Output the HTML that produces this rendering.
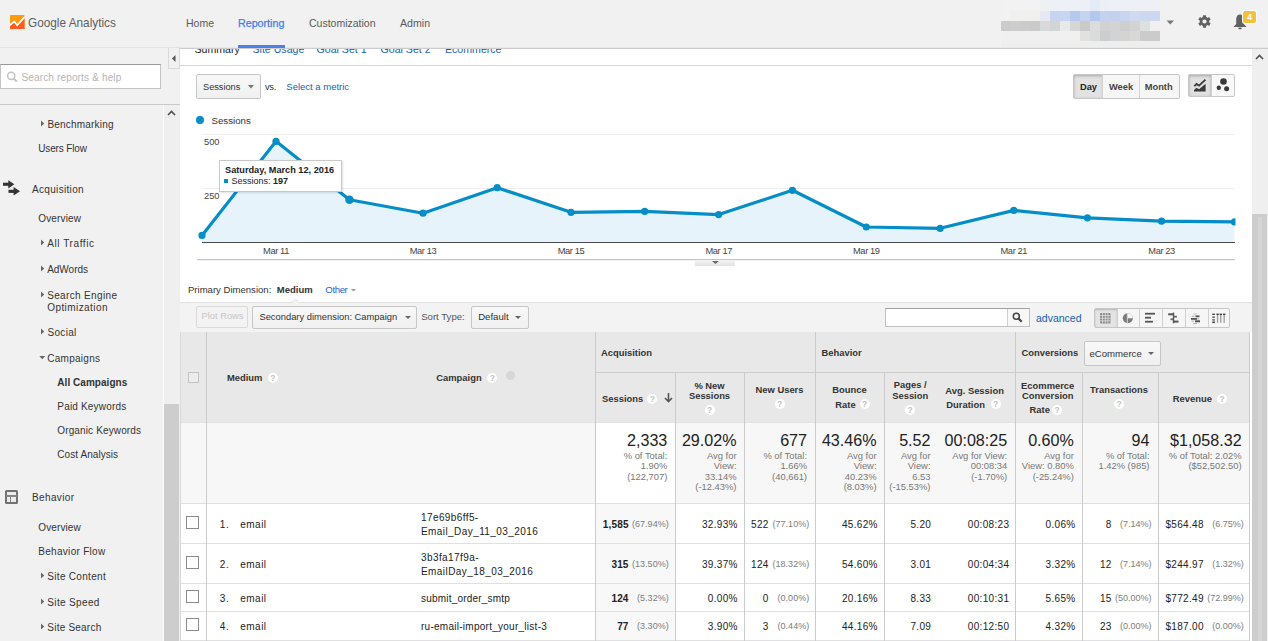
<!DOCTYPE html>
<html><head><meta charset="utf-8"><title>Google Analytics</title>
<style>
*{margin:0;padding:0;box-sizing:border-box}
html,body{width:1268px;height:641px;overflow:hidden;background:#fff}
body{position:relative;font-family:"Liberation Sans",Arial,sans-serif;color:#333}
.t{position:absolute;white-space:nowrap;line-height:14px}
.r{position:absolute}
svg{position:absolute;overflow:visible}
.btn{position:absolute;border:1px solid #c6c6c6;border-radius:2px;background:linear-gradient(#f8f8f8,#f0f0f0)}
.cb{position:absolute;width:13px;height:13px;border:1px solid #8a8a8a;background:#fff}
.q{position:absolute;width:10px;height:10px;border-radius:50%;background:#fff;color:#c2c2c2;font-size:8.5px;line-height:10px;text-align:center;font-weight:bold}
</style></head><body>

<div class="r" style="left:0.0px;top:0.0px;width:1268.0px;height:47.0px;background:#f1f1f1"></div>
<div class="r" style="left:0.0px;top:47.0px;width:180.0px;height:1.0px;background:#e2e2e2"></div>
<div class="r" style="left:180.0px;top:47.0px;width:1088.0px;height:1.0px;background:#e8e8e8"></div>
<div class="r" style="left:180.0px;top:48.0px;width:1088.0px;height:1.0px;background:#cdcdcd"></div>
<svg style="left:9.7px;top:14.9px" width="14.5" height="14" viewBox="0 0 14.5 14">
<rect x="0" y="0" width="14.5" height="14" rx="0.8" fill="#ff9a0a"/>
<polygon points="0,14 0,10.1 4.2,6.5 7.2,10.3 14.5,2.2 14.5,14" fill="#ff5a1f"/>
<polyline points="-0.3,10.4 4.2,6.5 7.2,10.3 14.8,1.9" fill="none" stroke="#fff" stroke-width="1.7"/>
</svg>
<div class="t " style="left:28.0px;top:15.90px;font-size:11.80px;color:#5f5f5f;font-weight:normal;transform:scaleY(1.1);transform-origin:0 50%">Google Analytics</div>
<div class="t " style="left:186.0px;top:16.40px;font-size:10.50px;color:#5a5a5a;font-weight:normal;">Home</div>
<div class="t " style="left:238.0px;top:16.40px;font-size:10.70px;color:#3f7ee8;font-weight:normal;-webkit-text-stroke:0.25px #3f7ee8">Reporting</div>
<div class="t " style="left:309.0px;top:16.40px;font-size:10.50px;color:#5a5a5a;font-weight:normal;">Customization</div>
<div class="t " style="left:400.0px;top:16.40px;font-size:10.60px;color:#5a5a5a;font-weight:normal;">Admin</div>
<div class="r" style="left:238.0px;top:44.5px;width:47.0px;height:3.0px;background:#4a80e8"></div>
<div class="r" style="left:1001.0px;top:0.0px;width:9.0px;height:10.6px;background:#f2f2f2"></div>
<div class="r" style="left:1010.0px;top:0.0px;width:10.0px;height:10.6px;background:#f2f2f2"></div>
<div class="r" style="left:1020.0px;top:0.0px;width:10.0px;height:10.6px;background:#f2f2f2"></div>
<div class="r" style="left:1030.0px;top:0.0px;width:10.0px;height:10.6px;background:#f2f2f2"></div>
<div class="r" style="left:1040.0px;top:0.0px;width:10.0px;height:10.6px;background:#eef0f4"></div>
<div class="r" style="left:1050.0px;top:0.0px;width:10.0px;height:10.6px;background:#edf0f6"></div>
<div class="r" style="left:1060.0px;top:0.0px;width:10.0px;height:10.6px;background:#edf0f6"></div>
<div class="r" style="left:1070.0px;top:0.0px;width:10.0px;height:10.6px;background:#edf0f6"></div>
<div class="r" style="left:1080.0px;top:0.0px;width:10.0px;height:10.6px;background:#eceff5"></div>
<div class="r" style="left:1090.0px;top:0.0px;width:10.0px;height:10.6px;background:#e4eaf6"></div>
<div class="r" style="left:1100.0px;top:0.0px;width:10.0px;height:10.6px;background:#eceff5"></div>
<div class="r" style="left:1110.0px;top:0.0px;width:10.0px;height:10.6px;background:#edf0f6"></div>
<div class="r" style="left:1120.0px;top:0.0px;width:10.0px;height:10.6px;background:#edf0f6"></div>
<div class="r" style="left:1130.0px;top:0.0px;width:10.0px;height:10.6px;background:#eef0f5"></div>
<div class="r" style="left:1140.0px;top:0.0px;width:10.0px;height:10.6px;background:#eef0f5"></div>
<div class="r" style="left:1150.0px;top:0.0px;width:10.0px;height:10.6px;background:#eef0f5"></div>
<div class="r" style="left:1001.0px;top:10.6px;width:9.0px;height:10.0px;background:#f2f2f2"></div>
<div class="r" style="left:1010.0px;top:10.6px;width:10.0px;height:10.0px;background:#f0f0ef"></div>
<div class="r" style="left:1020.0px;top:10.6px;width:10.0px;height:10.0px;background:#f0f0ef"></div>
<div class="r" style="left:1030.0px;top:10.6px;width:10.0px;height:10.0px;background:#f0f0ef"></div>
<div class="r" style="left:1040.0px;top:10.6px;width:10.0px;height:10.0px;background:#e6e9f3"></div>
<div class="r" style="left:1050.0px;top:10.6px;width:10.0px;height:10.0px;background:#c6d4f0"></div>
<div class="r" style="left:1060.0px;top:10.6px;width:10.0px;height:10.0px;background:#c8d5f0"></div>
<div class="r" style="left:1070.0px;top:10.6px;width:10.0px;height:10.0px;background:#b5c8ee"></div>
<div class="r" style="left:1080.0px;top:10.6px;width:10.0px;height:10.0px;background:#c5d3f0"></div>
<div class="r" style="left:1090.0px;top:10.6px;width:10.0px;height:10.0px;background:#b4c7ee"></div>
<div class="r" style="left:1100.0px;top:10.6px;width:10.0px;height:10.0px;background:#c4d2f0"></div>
<div class="r" style="left:1110.0px;top:10.6px;width:10.0px;height:10.0px;background:#c3d0ee"></div>
<div class="r" style="left:1120.0px;top:10.6px;width:10.0px;height:10.0px;background:#c8d5f0"></div>
<div class="r" style="left:1130.0px;top:10.6px;width:10.0px;height:10.0px;background:#d0d9ee"></div>
<div class="r" style="left:1140.0px;top:10.6px;width:10.0px;height:10.0px;background:#ccd7f0"></div>
<div class="r" style="left:1150.0px;top:10.6px;width:10.0px;height:10.0px;background:#ccd7f0"></div>
<div class="r" style="left:1001.0px;top:20.6px;width:9.0px;height:10.0px;background:#cbcbcb"></div>
<div class="r" style="left:1010.0px;top:20.6px;width:10.0px;height:10.0px;background:#cdcdcd"></div>
<div class="r" style="left:1020.0px;top:20.6px;width:10.0px;height:10.0px;background:#cbcbcb"></div>
<div class="r" style="left:1030.0px;top:20.6px;width:10.0px;height:10.0px;background:#cacaca"></div>
<div class="r" style="left:1040.0px;top:20.6px;width:10.0px;height:10.0px;background:#d8d9da"></div>
<div class="r" style="left:1050.0px;top:20.6px;width:10.0px;height:10.0px;background:#d3d4d4"></div>
<div class="r" style="left:1060.0px;top:20.6px;width:10.0px;height:10.0px;background:#e8e9e8"></div>
<div class="r" style="left:1070.0px;top:20.6px;width:10.0px;height:10.0px;background:#d6d6d5"></div>
<div class="r" style="left:1080.0px;top:20.6px;width:10.0px;height:10.0px;background:#cacaca"></div>
<div class="r" style="left:1090.0px;top:20.6px;width:10.0px;height:10.0px;background:#dcdcdc"></div>
<div class="r" style="left:1100.0px;top:20.6px;width:10.0px;height:10.0px;background:#d1d1d1"></div>
<div class="r" style="left:1110.0px;top:20.6px;width:10.0px;height:10.0px;background:#d3d3d3"></div>
<div class="r" style="left:1120.0px;top:20.6px;width:10.0px;height:10.0px;background:#cecece"></div>
<div class="r" style="left:1130.0px;top:20.6px;width:10.0px;height:10.0px;background:#d3d3d3"></div>
<div class="r" style="left:1140.0px;top:20.6px;width:10.0px;height:10.0px;background:#dedfdf"></div>
<div class="r" style="left:1150.0px;top:20.6px;width:10.0px;height:10.0px;background:#f0f0f0"></div>
<div class="r" style="left:1001.0px;top:30.6px;width:9.0px;height:10.0px;background:#f0f0f0"></div>
<div class="r" style="left:1010.0px;top:30.6px;width:10.0px;height:10.0px;background:#f0f0f0"></div>
<div class="r" style="left:1020.0px;top:30.6px;width:10.0px;height:10.0px;background:#f0f0f0"></div>
<div class="r" style="left:1030.0px;top:30.6px;width:10.0px;height:10.0px;background:#f0f0f0"></div>
<div class="r" style="left:1040.0px;top:30.6px;width:10.0px;height:10.0px;background:#f0f0f0"></div>
<div class="r" style="left:1050.0px;top:30.6px;width:10.0px;height:10.0px;background:#f0f0f0"></div>
<div class="r" style="left:1060.0px;top:30.6px;width:10.0px;height:10.0px;background:#f0f0f0"></div>
<div class="r" style="left:1070.0px;top:30.6px;width:10.0px;height:10.0px;background:#f0f0f0"></div>
<div class="r" style="left:1080.0px;top:30.6px;width:10.0px;height:10.0px;background:#e1e1e0"></div>
<div class="r" style="left:1090.0px;top:30.6px;width:10.0px;height:10.0px;background:#dadbdb"></div>
<div class="r" style="left:1100.0px;top:30.6px;width:10.0px;height:10.0px;background:#cdcdcd"></div>
<div class="r" style="left:1110.0px;top:30.6px;width:10.0px;height:10.0px;background:#d2d3d4"></div>
<div class="r" style="left:1120.0px;top:30.6px;width:10.0px;height:10.0px;background:#d4d4d2"></div>
<div class="r" style="left:1130.0px;top:30.6px;width:10.0px;height:10.0px;background:#d8d8d8"></div>
<div class="r" style="left:1140.0px;top:30.6px;width:10.0px;height:10.0px;background:#cbcbcb"></div>
<div class="r" style="left:1150.0px;top:30.6px;width:10.0px;height:10.0px;background:#cbcbcb"></div>
<div class="r" style="left:1001.0px;top:40.8px;width:159.0px;height:6.2px;background:#eeeeee"></div>
<svg style="left:1166px;top:20px" width="9" height="5"><polygon points="0.5,0.5 8,0.5 4.25,4.5" fill="#777"/></svg>
<svg style="left:1196.9px;top:13.9px" width="15" height="15" viewBox="-7.5 -7.5 15 15">
<g fill="#616161">
<circle r="4.7"/>
<rect x="-1.6" y="-6.3" width="3.2" height="12.6" rx="0.6"/>
<rect x="-1.6" y="-6.3" width="3.2" height="12.6" rx="0.6" transform="rotate(60)"/>
<rect x="-1.6" y="-6.3" width="3.2" height="12.6" rx="0.6" transform="rotate(120)"/>
</g><circle r="2.1" fill="#f1f1f1"/></svg>
<svg style="left:1233px;top:13px" width="16" height="17" viewBox="0 0 16 17">
<path d="M7,1.5 C4,1.5 3.2,4.5 3.2,7 L3.2,11 L0.5,14 L13.5,14 L10.8,11 L10.8,7 C10.8,4.5 10,1.5 7,1.5 Z" fill="#616161"/>
<rect x="5.3" y="14.6" width="3.4" height="1.6" rx="0.8" fill="#616161"/></svg>
<div class="r" style="left:1243.0px;top:10.5px;width:13.0px;height:12.5px;background:#f3c13a;border-radius:2px;box-shadow:0 0 0 1px #fff"></div>
<div class="t " style="left:1249.5px;transform:translateX(-50%);top:10.35px;font-size:9.00px;color:#fff;font-weight:bold;">4</div>
<div class="r" style="left:0.0px;top:48.0px;width:180.0px;height:593.0px;background:#f1f1f1"></div>
<div class="r" style="left:0.0px;top:64.0px;width:161.0px;height:25.0px;background:#fff;border:1px solid #c4c4c4;border-top-color:#9a9a9a"></div>
<svg style="left:6px;top:70px" width="12" height="13" viewBox="0 0 12 13">
<circle cx="5.2" cy="5.8" r="3.6" fill="none" stroke="#c2c2c2" stroke-width="1.5"/>
<line x1="7.8" y1="8.6" x2="10.8" y2="11.6" stroke="#c2c2c2" stroke-width="2"/></svg>
<div class="t " style="left:21.4px;top:71.40px;font-size:10.00px;color:#b4b4b4;font-weight:normal;letter-spacing:0.159px;">Search reports &amp; help</div>
<div class="r" style="left:168.0px;top:48.0px;width:12.0px;height:21.0px;background:#f1f1f1;border:1px solid #dadada;border-top:none"></div>
<svg style="left:172px;top:55px" width="4" height="7"><polygon points="3.5,0 3.5,7 0,3.5" fill="#555"/></svg>
<div class="r" style="left:0.0px;top:103.5px;width:180.0px;height:1.5px;background:#c9c9c9"></div>
<div class="r" style="left:163.0px;top:105.0px;width:1.0px;height:536.0px;background:#fcfcfc"></div>
<div class="r" style="left:164.0px;top:105.0px;width:16.0px;height:536.0px;background:#efefef"></div>
<div class="r" style="left:164.0px;top:404.0px;width:15.0px;height:237.0px;background:#cdcdcd"></div>
<svg style="left:167px;top:110px" width="9" height="6"><polyline points="1,5 4.5,1.5 8,5" fill="none" stroke="#505050" stroke-width="1.6"/></svg>
<svg style="left:40.6px;top:120.0px" width="4" height="7"><polygon points="0,0.5 3.2,3.5 0,6.5" fill="#666"/></svg>
<div class="t " style="left:47.4px;top:117.90px;font-size:10.00px;color:#333;font-weight:normal;letter-spacing:0.207px;">Benchmarking</div>
<div class="t " style="left:38.3px;top:141.80px;font-size:10.00px;color:#333;font-weight:normal;letter-spacing:-0.159px;">Users Flow</div>
<svg style="left:0;top:178px" width="22" height="20" viewBox="0 178 22 20">
<g fill="#333"><rect x="3" y="182.7" width="6.5" height="3.1"/><polygon points="8.3,180.2 14.3,184.25 8.3,188.4"/>
<rect x="8.5" y="189.8" width="6" height="3.1"/><polygon points="13.6,187.1 20,191.35 13.6,195.6"/></g></svg>
<div class="t " style="left:32.0px;top:182.80px;font-size:10.00px;color:#333;font-weight:normal;letter-spacing:0.324px;">Acquisition</div>
<div class="t " style="left:38.2px;top:212.10px;font-size:10.00px;color:#333;font-weight:normal;letter-spacing:0.171px;">Overview</div>
<svg style="left:40.6px;top:239.0px" width="4" height="7"><polygon points="0,0.5 3.2,3.5 0,6.5" fill="#666"/></svg>
<div class="t " style="left:47.2px;top:237.10px;font-size:10.00px;color:#333;font-weight:normal;letter-spacing:0.586px;">All Traffic</div>
<svg style="left:40.6px;top:265.0px" width="4" height="7"><polygon points="0,0.5 3.2,3.5 0,6.5" fill="#666"/></svg>
<div class="t " style="left:47.2px;top:263.10px;font-size:10.00px;color:#333;font-weight:normal;letter-spacing:-0.023px;">AdWords</div>
<svg style="left:40.6px;top:291.0px" width="4" height="7"><polygon points="0,0.5 3.2,3.5 0,6.5" fill="#666"/></svg>
<div class="t " style="left:47.2px;top:289.00px;font-size:10.00px;color:#333;font-weight:normal;letter-spacing:0.350px;">Search Engine</div>
<div class="t " style="left:47.2px;top:301.20px;font-size:10.00px;color:#333;font-weight:normal;letter-spacing:0.429px;">Optimization</div>
<svg style="left:40.6px;top:328.0px" width="4" height="7"><polygon points="0,0.5 3.2,3.5 0,6.5" fill="#666"/></svg>
<div class="t " style="left:47.5px;top:325.80px;font-size:10.00px;color:#333;font-weight:normal;letter-spacing:0.312px;">Social</div>
<svg style="left:39.0px;top:355.6px" width="7" height="4"><polygon points="0.3,0 6.2,0 3.25,3.2" fill="#666"/></svg>
<div class="t " style="left:47.3px;top:352.10px;font-size:10.00px;color:#333;font-weight:normal;letter-spacing:0.265px;">Campaigns</div>
<div class="t " style="left:57.3px;top:376.04px;font-size:10.00px;color:#333;font-weight:bold;letter-spacing:0.045px;">All Campaigns</div>
<div class="t " style="left:57.3px;top:400.10px;font-size:10.00px;color:#333;font-weight:normal;letter-spacing:0.183px;">Paid Keywords</div>
<div class="t " style="left:57.3px;top:424.10px;font-size:10.00px;color:#333;font-weight:normal;letter-spacing:0.133px;">Organic Keywords</div>
<div class="t " style="left:57.3px;top:448.00px;font-size:10.00px;color:#333;font-weight:normal;letter-spacing:0.065px;">Cost Analysis</div>
<div class="r" style="left:4.5px;top:490.0px;width:13.4px;height:13.5px;border:2px solid #727272;border-radius:1.5px;background:#ececec"></div>
<div class="r" style="left:6.0px;top:495.4px;width:10.5px;height:1.6px;background:#858585"></div>
<div class="r" style="left:9.6px;top:496.8px;width:1.5px;height:5.2px;background:#858585"></div>
<div class="t " style="left:32.0px;top:490.90px;font-size:10.00px;color:#333;font-weight:normal;letter-spacing:0.361px;">Behavior</div>
<div class="t " style="left:38.3px;top:520.90px;font-size:10.00px;color:#333;font-weight:normal;letter-spacing:0.114px;">Overview</div>
<div class="t " style="left:38.3px;top:545.00px;font-size:10.00px;color:#333;font-weight:normal;letter-spacing:0.293px;">Behavior Flow</div>
<svg style="left:40.6px;top:572.0px" width="4" height="7"><polygon points="0,0.5 3.2,3.5 0,6.5" fill="#666"/></svg>
<div class="t " style="left:47.3px;top:570.10px;font-size:10.00px;color:#333;font-weight:normal;letter-spacing:0.306px;">Site Content</div>
<svg style="left:40.6px;top:598.0px" width="4" height="7"><polygon points="0,0.5 3.2,3.5 0,6.5" fill="#666"/></svg>
<div class="t " style="left:47.3px;top:596.10px;font-size:10.00px;color:#333;font-weight:normal;letter-spacing:0.352px;">Site Speed</div>
<svg style="left:40.6px;top:623.0px" width="4" height="7"><polygon points="0,0.5 3.2,3.5 0,6.5" fill="#666"/></svg>
<div class="t " style="left:47.3px;top:621.10px;font-size:10.00px;color:#333;font-weight:normal;letter-spacing:0.221px;">Site Search</div>
<div class="r" style="left:1252.0px;top:49.0px;width:16.0px;height:592.0px;background:#efefef"></div>
<div class="r" style="left:1252.0px;top:214.0px;width:15.0px;height:427.0px;background:#cdcdcd"></div>
<div class="r" style="left:1258.0px;top:217.0px;width:4.0px;height:424.0px;background:#d5d5d5"></div>
<svg style="left:1255px;top:54px" width="9" height="6"><polyline points="1,5 4.5,1.5 8,5" fill="none" stroke="#505050" stroke-width="1.6"/></svg>
<div style="position:absolute;left:180px;top:49px;width:1072px;height:16px;overflow:hidden">
<div class="t" style="left:14.5px;top:-7px;font-size:10.6px;color:#222">Summary</div>
<div class="t" style="left:72.5px;top:-7px;font-size:10.6px;color:#175fb3">Site Usage</div>
<div class="t" style="left:136.5px;top:-7px;font-size:10.6px;color:#175fb3">Goal Set 1</div>
<div class="t" style="left:200.5px;top:-7px;font-size:10.6px;color:#175fb3">Goal Set 2</div>
<div class="t" style="left:265.0px;top:-7px;font-size:10.6px;color:#175fb3">Ecommerce</div>
</div>
<div class="r" style="left:180.0px;top:65.0px;width:1072.0px;height:1.0px;background:#d6d6d6"></div>
<div class="btn" style="left:196px;top:74px;width:65px;height:25px"></div>
<div class="t " style="left:203.0px;top:80.08px;font-size:9.20px;color:#333;font-weight:normal;">Sessions</div>
<svg style="left:248px;top:85px" width="7" height="4"><polygon points="0,0 6,0 3,3.5" fill="#777"/></svg>
<div class="t " style="left:265.0px;top:79.88px;font-size:9.30px;color:#333;font-weight:normal;letter-spacing:-0.3px">vs.</div>
<div class="t " style="left:286.3px;top:80.08px;font-size:9.50px;color:#175fb3;font-weight:normal;">Select a metric</div>
<div class="btn" style="left:1073px;top:74px;width:107px;height:25px;background:#f6f6f6"></div>
<div class="r" style="left:1074.0px;top:75.0px;width:28.5px;height:23.0px;background:#e2e2e2;box-shadow:inset 0 1px 3px rgba(0,0,0,.25)"></div>
<div class="r" style="left:1102.0px;top:75.0px;width:1.0px;height:23.0px;background:#d4d4d4"></div>
<div class="r" style="left:1139.0px;top:75.0px;width:1.0px;height:23.0px;background:#d4d4d4"></div>
<div class="t " style="left:1088.5px;transform:translateX(-50%);top:79.85px;font-size:9.30px;color:#222;font-weight:bold;">Day</div>
<div class="t " style="left:1121.0px;transform:translateX(-50%);top:79.85px;font-size:9.30px;color:#444;font-weight:bold;">Week</div>
<div class="t " style="left:1158.7px;transform:translateX(-50%);top:79.85px;font-size:9.30px;color:#444;font-weight:bold;">Month</div>
<div class="btn" style="left:1188px;top:74px;width:47px;height:23px;background:#f9f9f9"></div>
<div class="r" style="left:1189.0px;top:75.0px;width:21.5px;height:21.0px;background:#e0e0e0;box-shadow:inset 0 1px 3px rgba(0,0,0,.25)"></div>
<div class="r" style="left:1210.5px;top:75.0px;width:1.0px;height:21.0px;background:#cfcfcf"></div>
<svg style="left:1194px;top:79px" width="13" height="13" viewBox="0 0 13 13">
<polyline points="0.3,7.2 2.6,5 5,6.6 11.5,0.6" fill="none" stroke="#3a3a3a" stroke-width="1.8"/>
<polygon points="0,12.5 0,11 2.6,8.8 5,10.3 11.6,4.8 11.6,12.5" fill="#3a3a3a"/></svg>
<svg style="left:1215px;top:77px" width="16" height="16">
<circle cx="8.5" cy="4.5" r="3.3" fill="#3a3a3a"/><circle cx="3.8" cy="10.7" r="2.2" fill="#3a3a3a"/><circle cx="11.6" cy="11.8" r="2.5" fill="#3a3a3a"/></svg>
<svg style="left:195px;top:115px" width="10" height="10"><circle cx="5" cy="5" r="4" fill="#058dc7"/></svg>
<div class="t " style="left:211.5px;top:114.07px;font-size:9.70px;color:#333;font-weight:normal;">Sessions</div>
<svg style="left:0;top:0" width="1268" height="641"><defs><clipPath id="cp"><rect x="190" y="100" width="1045.5" height="170"/></clipPath></defs><g clip-path="url(#cp)"><line x1="202" y1="134.5" x2="1235" y2="134.5" stroke="#eeeeee" stroke-width="1"/><line x1="202" y1="188.5" x2="1235" y2="188.5" stroke="#eeeeee" stroke-width="1"/><polygon points="202,242 202.0,235.4 276.0,141.3 349.5,199.7 423.0,213.2 497.2,187.7 571.0,212.3 644.7,211.3 718.7,214.6 792.4,190.3 866.3,227.0 940.2,228.3 1013.8,210.4 1087.4,217.8 1161.6,221.2 1234.5,221.9 1234.5,242" fill="#e6f3fa"/><polyline points="202.0,235.4 276.0,141.3 349.5,199.7 423.0,213.2 497.2,187.7 571.0,212.3 644.7,211.3 718.7,214.6 792.4,190.3 866.3,227.0 940.2,228.3 1013.8,210.4 1087.4,217.8 1161.6,221.2 1234.5,221.9" fill="none" stroke="#058dc7" stroke-width="3.2" stroke-linejoin="round"/><circle cx="202.0" cy="235.4" r="3.6" fill="#058dc7"/><circle cx="276.0" cy="141.3" r="3.6" fill="#058dc7"/><circle cx="349.5" cy="199.7" r="4.3" fill="#058dc7"/><circle cx="423.0" cy="213.2" r="3.6" fill="#058dc7"/><circle cx="497.2" cy="187.7" r="3.6" fill="#058dc7"/><circle cx="571.0" cy="212.3" r="3.6" fill="#058dc7"/><circle cx="644.7" cy="211.3" r="3.6" fill="#058dc7"/><circle cx="718.7" cy="214.6" r="3.6" fill="#058dc7"/><circle cx="792.4" cy="190.3" r="3.6" fill="#058dc7"/><circle cx="866.3" cy="227.0" r="3.6" fill="#058dc7"/><circle cx="940.2" cy="228.3" r="3.6" fill="#058dc7"/><circle cx="1013.8" cy="210.4" r="3.6" fill="#058dc7"/><circle cx="1087.4" cy="217.8" r="3.6" fill="#058dc7"/><circle cx="1161.6" cy="221.2" r="3.6" fill="#058dc7"/><circle cx="1234.5" cy="221.9" r="3.6" fill="#058dc7"/><line x1="202" y1="242.5" x2="1235" y2="242.5" stroke="#4a4a4a" stroke-width="1.1"/><line x1="197" y1="259.6" x2="1235" y2="259.6" stroke="#c4c4c4" stroke-width="1.2"/></g></svg>
<div class="t " style="left:204.0px;top:135.08px;font-size:9.30px;color:#444;font-weight:normal;">500</div>
<div class="t " style="left:204.0px;top:188.88px;font-size:9.30px;color:#444;font-weight:normal;">250</div>
<div class="t " style="left:276.0px;transform:translateX(-50%);top:244.08px;font-size:9.30px;color:#444;font-weight:normal;letter-spacing:-0.4px">Mar 11</div>
<div class="t " style="left:423.0px;transform:translateX(-50%);top:244.08px;font-size:9.30px;color:#444;font-weight:normal;letter-spacing:-0.4px">Mar 13</div>
<div class="t " style="left:571.0px;transform:translateX(-50%);top:244.08px;font-size:9.30px;color:#444;font-weight:normal;letter-spacing:-0.4px">Mar 15</div>
<div class="t " style="left:718.7px;transform:translateX(-50%);top:244.08px;font-size:9.30px;color:#444;font-weight:normal;letter-spacing:-0.4px">Mar 17</div>
<div class="t " style="left:866.3px;transform:translateX(-50%);top:244.08px;font-size:9.30px;color:#444;font-weight:normal;letter-spacing:-0.4px">Mar 19</div>
<div class="t " style="left:1013.8px;transform:translateX(-50%);top:244.08px;font-size:9.30px;color:#444;font-weight:normal;letter-spacing:-0.4px">Mar 21</div>
<div class="t " style="left:1161.6px;transform:translateX(-50%);top:244.08px;font-size:9.30px;color:#444;font-weight:normal;letter-spacing:-0.4px">Mar 23</div>
<div class="r" style="left:695.0px;top:260.0px;width:39.5px;height:6.0px;background:linear-gradient(#f4f4f4,#e3e3e3)"></div>
<svg style="left:712px;top:261px" width="7" height="4"><polygon points="0,0 7,0 3.5,3" fill="#6a6a6a"/></svg>
<div class="r" style="left:218.5px;top:160.0px;width:123.0px;height:31.5px;background:#fff;border:1px solid #c9c9c9;box-shadow:1px 1px 2px rgba(0,0,0,.12)"></div>
<div class="t " style="left:225.0px;top:163.15px;font-size:9.20px;color:#222;font-weight:bold;">Saturday, March 12, 2016</div>
<div class="r" style="left:224.0px;top:178.8px;width:4.0px;height:4.0px;background:#058dc7"></div>
<div class="t " style="left:231.4px;top:173.97px;font-size:9.00px;color:#222;font-weight:normal;">Sessions: <b>197</b></div>
<div class="t " style="left:188.0px;top:282.57px;font-size:9.55px;color:#333;font-weight:normal;">Primary Dimension:</div>
<div class="t " style="left:276.8px;top:282.55px;font-size:9.50px;color:#333;font-weight:bold;">Medium</div>
<div class="t " style="left:325.3px;top:282.57px;font-size:9.60px;color:#2a5fd0;font-weight:normal;letter-spacing:-0.377px;">Other</div>
<svg style="left:351.4px;top:288.5px" width="5" height="3"><polygon points="0,0 5,0 2.5,2.5" fill="#999"/></svg>
<div class="r" style="left:180.0px;top:302.0px;width:1072.0px;height:30.0px;background:#f3f3f3;border-top:1px solid #e3e3e3"></div>
<svg style="left:290.5px;top:297.5px" width="10" height="6"><polyline points="0.5,5 4.5,1 8.5,5" fill="#f3f3f3" stroke="#e0e0e0" stroke-width="1"/></svg>
<div class="btn" style="left:196px;top:306px;width:51.5px;height:22px;background:#f3f3f3;border-color:#dadada"></div>
<div class="t " style="left:201.6px;top:309.38px;font-size:9.30px;color:#c6c6c6;font-weight:normal;">Plot Rows</div>
<div class="btn" style="left:252px;top:306px;width:165px;height:23px"></div>
<div class="t " style="left:259.4px;top:309.57px;font-size:9.37px;color:#333;font-weight:normal;">Secondary dimension: Campaign</div>
<svg style="left:405px;top:316px" width="6" height="4"><polygon points="0,0 6,0 3,3" fill="#666"/></svg>
<div class="t " style="left:421.2px;top:309.57px;font-size:9.60px;color:#555;font-weight:normal;">Sort Type:</div>
<div class="btn" style="left:471px;top:306px;width:57.5px;height:23px"></div>
<div class="t " style="left:478.2px;top:309.57px;font-size:9.60px;color:#333;font-weight:normal;">Default</div>
<svg style="left:515px;top:316px" width="6" height="4"><polygon points="0,0 6,0 3,3" fill="#666"/></svg>
<div class="r" style="left:885.0px;top:308.0px;width:145.0px;height:19.0px;background:#fff;border:1px solid #c0c0c0;border-top-color:#a0a0a0"></div>
<div class="r" style="left:1007.0px;top:309.0px;width:22.0px;height:17.0px;background:#f7f7f7;border-left:1px solid #d0d0d0"></div>
<svg style="left:1012px;top:312px" width="11" height="11"><circle cx="4.3" cy="4.3" r="3" fill="none" stroke="#444" stroke-width="1.5"/><line x1="6.5" y1="6.5" x2="9.7" y2="9.7" stroke="#444" stroke-width="2.2"/></svg>
<div class="t " style="left:1036.0px;top:310.90px;font-size:10.50px;color:#175fb3;font-weight:normal;">advanced</div>
<div class="btn" style="left:1094px;top:308px;width:136px;height:20px;background:#f6f6f6"></div>
<div class="r" style="left:1095.0px;top:309.0px;width:21.5px;height:18.0px;background:#e4e4e4;box-shadow:inset 0 1px 2px rgba(0,0,0,.2)"></div>
<div class="r" style="left:1116.7px;top:309.0px;width:1.0px;height:18.0px;background:#cfcfcf"></div>
<div class="r" style="left:1139.4px;top:309.0px;width:1.0px;height:18.0px;background:#cfcfcf"></div>
<div class="r" style="left:1161.5px;top:309.0px;width:1.0px;height:18.0px;background:#cfcfcf"></div>
<div class="r" style="left:1184.5px;top:309.0px;width:1.0px;height:18.0px;background:#cfcfcf"></div>
<div class="r" style="left:1207.5px;top:309.0px;width:1.0px;height:18.0px;background:#cfcfcf"></div>
<svg style="left:0;top:0" width="1268" height="641"><rect x="1100" y="313" width="10.5" height="10.5" rx="1" fill="#8a8a8a"/><line x1="1102.6" y1="313" x2="1102.6" y2="323.5" stroke="#e4e4e4" stroke-width="0.8"/><line x1="1100" y1="315.6" x2="1110.5" y2="315.6" stroke="#e4e4e4" stroke-width="0.8"/><line x1="1105.3" y1="313" x2="1105.3" y2="323.5" stroke="#e4e4e4" stroke-width="0.8"/><line x1="1100" y1="318.3" x2="1110.5" y2="318.3" stroke="#e4e4e4" stroke-width="0.8"/><line x1="1107.9" y1="313" x2="1107.9" y2="323.5" stroke="#e4e4e4" stroke-width="0.8"/><line x1="1100" y1="320.9" x2="1110.5" y2="320.9" stroke="#e4e4e4" stroke-width="0.8"/><circle cx="1127.8" cy="318.2" r="5" fill="#7a7a7a"/><path d="M1127.8,313.2 V318.2 H1132.8 A5,5 0 0 0 1127.8,313.2Z" fill="#f6f6f6"/><line x1="1127.3" y1="313.2" x2="1127.3" y2="323.2" stroke="#f6f6f6" stroke-width="0.8"/><rect x="1145" y="312.8" width="10" height="1.8" fill="#555"/><rect x="1145" y="316.8" width="6" height="1.8" fill="#555"/><rect x="1145" y="320.8" width="8" height="1.8" fill="#555"/><rect x="1172.8" y="312.5" width="1.4" height="10.8" fill="#555"/><rect x="1168.2" y="313.3" width="5" height="2" fill="#555"/><rect x="1173.5" y="315.8" width="3.4" height="1.8" fill="#666"/><rect x="1170.5" y="318.4" width="2.6" height="1.8" fill="#666"/><rect x="1173.5" y="320.6" width="5" height="2" fill="#555"/><rect x="1193.5" y="313.6" width="3" height="0.8" fill="#aaa"/><rect x="1192" y="315.8" width="2.4" height="1" fill="#aaa"/><rect x="1195.5" y="315.4" width="4" height="1.8" fill="#555"/><rect x="1191" y="318" width="6" height="1.8" fill="#555"/><rect x="1197.5" y="318.4" width="1.6" height="1" fill="#999"/><rect x="1191.5" y="320.6" width="2.5" height="1" fill="#aaa"/><rect x="1195" y="320.3" width="5" height="2" fill="#555"/><rect x="1193" y="323" width="4" height="0.8" fill="#aaa"/><rect x="1212.3" y="313.6" width="2.6" height="1.4" fill="#444"/><rect x="1212.3" y="316.5" width="2.6" height="1.4" fill="#555"/><rect x="1212.3" y="319.2" width="2.6" height="1.4" fill="#555"/><rect x="1212.3" y="321.5" width="2.6" height="1.6" fill="#444"/><rect x="1216.4" y="313.6" width="2.4" height="1.4" fill="#444"/><rect x="1216.9" y="315" width="1.3" height="7.8" fill="#999"/><rect x="1219.6" y="313.6" width="2.4" height="1.4" fill="#444"/><rect x="1220.1" y="315" width="1.3" height="7.8" fill="#999"/><rect x="1223.0" y="313.6" width="2.4" height="1.4" fill="#444"/><rect x="1223.5" y="315" width="1.3" height="7.8" fill="#999"/></svg>
<div class="r" style="left:180.0px;top:332.0px;width:1070.0px;height:90.0px;background:#e8e8e8"></div>
<div class="r" style="left:180.0px;top:422.0px;width:1070.0px;height:81.0px;background:#f7f7f7"></div>
<div class="r" style="left:595.0px;top:422.0px;width:80.0px;height:81.0px;background:#fff"></div>
<div class="r" style="left:595.0px;top:503.0px;width:80.0px;height:138.0px;background:#f8f8f8"></div>
<div class="r" style="left:595.0px;top:372.0px;width:655.0px;height:1.0px;background:#cbcbcb"></div>
<div class="r" style="left:180.0px;top:422.0px;width:1070.0px;height:1.0px;background:#e2e2e2"></div>
<div class="r" style="left:180.0px;top:503.0px;width:1070.0px;height:1.0px;background:#e0e0e0"></div>
<div class="r" style="left:180.0px;top:543.0px;width:1070.0px;height:1.0px;background:#e0e0e0"></div>
<div class="r" style="left:180.0px;top:583.0px;width:1070.0px;height:1.0px;background:#e0e0e0"></div>
<div class="r" style="left:180.0px;top:611.0px;width:1070.0px;height:1.0px;background:#e0e0e0"></div>
<div class="r" style="left:180.0px;top:640.0px;width:1070.0px;height:1.0px;background:#e0e0e0"></div>
<div class="r" style="left:180.0px;top:332.0px;width:1.0px;height:309.0px;background:#d9d9d9"></div>
<div class="r" style="left:206.0px;top:332.0px;width:1.0px;height:309.0px;background:#cbcbcb"></div>
<div class="r" style="left:595.0px;top:332.0px;width:1.0px;height:309.0px;background:#cbcbcb"></div>
<div class="r" style="left:675.0px;top:372.0px;width:1.0px;height:269.0px;background:#cbcbcb"></div>
<div class="r" style="left:744.0px;top:372.0px;width:1.0px;height:269.0px;background:#cbcbcb"></div>
<div class="r" style="left:884.0px;top:372.0px;width:1.0px;height:269.0px;background:#cbcbcb"></div>
<div class="r" style="left:1082.0px;top:372.0px;width:1.0px;height:269.0px;background:#cbcbcb"></div>
<div class="r" style="left:1158.0px;top:372.0px;width:1.0px;height:269.0px;background:#cbcbcb"></div>
<div class="r" style="left:815.0px;top:332.0px;width:1.0px;height:309.0px;background:#cbcbcb"></div>
<div class="r" style="left:1015.0px;top:332.0px;width:1.0px;height:309.0px;background:#cbcbcb"></div>
<div class="r" style="left:1249.0px;top:332.0px;width:1.0px;height:309.0px;background:#cbcbcb"></div>
<div class="r" style="left:188.0px;top:372.0px;width:11.0px;height:11.0px;border:1px solid #c2c2c2;background:#ececec"></div>
<div class="t " style="left:227.0px;top:371.35px;font-size:9.40px;color:#333;font-weight:bold;">Medium</div>
<div class="q" style="left:267.8px;top:373.0px">?</div>
<div class="t " style="left:436.3px;top:371.35px;font-size:9.40px;color:#333;font-weight:bold;">Campaign</div>
<div class="q" style="left:487.3px;top:373.0px">?</div>
<div style="position:absolute;left:506.3px;top:370.8px;width:9px;height:9px;border-radius:50%;background:#d6d6d6"></div>
<div class="t " style="left:601.0px;top:346.05px;font-size:9.40px;color:#333;font-weight:bold;">Acquisition</div>
<div class="t " style="left:821.5px;top:346.05px;font-size:9.40px;color:#333;font-weight:bold;">Behavior</div>
<div class="t " style="left:1021.5px;top:346.35px;font-size:9.40px;color:#333;font-weight:bold;">Conversions</div>
<div class="btn" style="left:1083.5px;top:340.5px;width:77px;height:25px"></div>
<div class="t " style="left:1089.5px;top:346.57px;font-size:9.60px;color:#333;font-weight:normal;">eCommerce</div>
<svg style="left:1148px;top:352px" width="6" height="4"><polygon points="0,0 6,0 3,3" fill="#666"/></svg>
<div class="t " style="left:602.0px;top:392.05px;font-size:9.40px;color:#333;font-weight:bold;">Sessions</div>
<div class="q" style="left:647.3px;top:393.5px">?</div>
<svg style="left:664px;top:393px" width="9" height="10"><path d="M4.5,0 V8.5 M1,5 L4.5,8.6 L8,5" fill="none" stroke="#555" stroke-width="1.6"/></svg>
<div class="t " style="left:709.5px;transform:translateX(-50%);top:378.55px;font-size:9.40px;color:#333;font-weight:bold;">% New</div>
<div class="t " style="left:709.5px;transform:translateX(-50%);top:389.05px;font-size:9.40px;color:#333;font-weight:bold;">Sessions</div>
<div class="q" style="left:704.5px;top:404.6px">?</div>
<div class="t " style="left:779.5px;transform:translateX(-50%);top:383.25px;font-size:9.40px;color:#333;font-weight:bold;">New Users</div>
<div class="q" style="left:774.5px;top:399.3px">?</div>
<div class="t " style="left:849.5px;transform:translateX(-50%);top:383.25px;font-size:9.40px;color:#333;font-weight:bold;">Bounce</div>
<div class="t " style="left:845.5px;transform:translateX(-50%);top:398.35px;font-size:9.40px;color:#333;font-weight:bold;">Rate</div>
<div class="q" style="left:859.5px;top:399.3px">?</div>
<div class="t " style="left:910.2px;transform:translateX(-50%);top:378.25px;font-size:9.40px;color:#333;font-weight:bold;">Pages /</div>
<div class="t " style="left:910.2px;transform:translateX(-50%);top:389.25px;font-size:9.40px;color:#333;font-weight:bold;">Session</div>
<div class="q" style="left:905.2px;top:404.9px">?</div>
<div class="t " style="left:974.6px;transform:translateX(-50%);top:383.55px;font-size:9.40px;color:#333;font-weight:bold;">Avg. Session</div>
<div class="t " style="left:965.6px;transform:translateX(-50%);top:398.05px;font-size:9.40px;color:#333;font-weight:bold;">Duration</div>
<div class="q" style="left:990.6px;top:399.3px">?</div>
<div class="t " style="left:1047.7px;transform:translateX(-50%);top:378.55px;font-size:9.40px;color:#333;font-weight:bold;">Ecommerce</div>
<div class="t " style="left:1047.7px;transform:translateX(-50%);top:389.25px;font-size:9.40px;color:#333;font-weight:bold;">Conversion</div>
<div class="t " style="left:1039.7px;transform:translateX(-50%);top:403.45px;font-size:9.40px;color:#333;font-weight:bold;">Rate</div>
<div class="q" style="left:1052.2px;top:404.9px">?</div>
<div class="t " style="left:1119.0px;transform:translateX(-50%);top:383.25px;font-size:9.40px;color:#333;font-weight:bold;">Transactions</div>
<div class="q" style="left:1114.0px;top:399.0px">?</div>
<div class="t " style="left:1172.8px;top:392.45px;font-size:9.40px;color:#333;font-weight:bold;">Revenue</div>
<div class="q" style="left:1217.0px;top:393.9px">?</div>
<div class="t " style="right:600.7px;top:433.15px;font-size:16.10px;color:#222;font-weight:normal;">2,333</div>
<div class="t " style="right:600.7px;top:448.98px;font-size:9.40px;color:#777;font-weight:normal;">% of Total:</div>
<div class="t " style="right:600.7px;top:459.48px;font-size:9.40px;color:#777;font-weight:normal;">1.90%</div>
<div class="t " style="right:600.7px;top:469.98px;font-size:9.40px;color:#777;font-weight:normal;">(122,707)</div>
<div class="t " style="right:531.5px;top:433.15px;font-size:16.10px;color:#222;font-weight:normal;">29.02%</div>
<div class="t " style="right:531.5px;top:448.98px;font-size:9.40px;color:#777;font-weight:normal;">Avg for</div>
<div class="t " style="right:531.5px;top:459.48px;font-size:9.40px;color:#777;font-weight:normal;">View:</div>
<div class="t " style="right:531.5px;top:469.98px;font-size:9.40px;color:#777;font-weight:normal;">33.14%</div>
<div class="t " style="right:531.5px;top:480.48px;font-size:9.40px;color:#777;font-weight:normal;">(-12.43%)</div>
<div class="t " style="right:461.0px;top:433.15px;font-size:16.10px;color:#222;font-weight:normal;">677</div>
<div class="t " style="right:461.0px;top:448.98px;font-size:9.40px;color:#777;font-weight:normal;">% of Total:</div>
<div class="t " style="right:461.0px;top:459.48px;font-size:9.40px;color:#777;font-weight:normal;">1.66%</div>
<div class="t " style="right:461.0px;top:469.98px;font-size:9.40px;color:#777;font-weight:normal;">(40,661)</div>
<div class="t " style="right:391.5px;top:433.15px;font-size:16.10px;color:#222;font-weight:normal;">43.46%</div>
<div class="t " style="right:391.5px;top:448.98px;font-size:9.40px;color:#777;font-weight:normal;">Avg for</div>
<div class="t " style="right:391.5px;top:459.48px;font-size:9.40px;color:#777;font-weight:normal;">View:</div>
<div class="t " style="right:391.5px;top:469.98px;font-size:9.40px;color:#777;font-weight:normal;">40.23%</div>
<div class="t " style="right:391.5px;top:480.48px;font-size:9.40px;color:#777;font-weight:normal;">(8.03%)</div>
<div class="t " style="right:337.5px;top:433.15px;font-size:16.10px;color:#222;font-weight:normal;">5.52</div>
<div class="t " style="right:337.5px;top:448.98px;font-size:9.40px;color:#777;font-weight:normal;">Avg for</div>
<div class="t " style="right:337.5px;top:459.48px;font-size:9.40px;color:#777;font-weight:normal;">View:</div>
<div class="t " style="right:337.5px;top:469.98px;font-size:9.40px;color:#777;font-weight:normal;">6.53</div>
<div class="t " style="right:337.5px;top:480.48px;font-size:9.40px;color:#777;font-weight:normal;">(-15.53%)</div>
<div class="t " style="right:260.8px;top:433.15px;font-size:16.10px;color:#222;font-weight:normal;">00:08:25</div>
<div class="t " style="right:260.8px;top:448.98px;font-size:9.40px;color:#777;font-weight:normal;">Avg for View:</div>
<div class="t " style="right:260.8px;top:459.48px;font-size:9.40px;color:#777;font-weight:normal;">00:08:34</div>
<div class="t " style="right:260.8px;top:469.98px;font-size:9.40px;color:#777;font-weight:normal;">(-1.70%)</div>
<div class="t " style="right:194.2px;top:433.15px;font-size:16.10px;color:#222;font-weight:normal;">0.60%</div>
<div class="t " style="right:194.2px;top:448.98px;font-size:9.40px;color:#777;font-weight:normal;">Avg for</div>
<div class="t " style="right:194.2px;top:459.48px;font-size:9.40px;color:#777;font-weight:normal;">View: 0.80%</div>
<div class="t " style="right:194.2px;top:469.98px;font-size:9.40px;color:#777;font-weight:normal;">(-25.24%)</div>
<div class="t " style="right:118.5px;top:433.15px;font-size:16.10px;color:#222;font-weight:normal;">94</div>
<div class="t " style="right:118.5px;top:448.98px;font-size:9.40px;color:#777;font-weight:normal;">% of Total:</div>
<div class="t " style="right:118.5px;top:459.48px;font-size:9.40px;color:#777;font-weight:normal;">1.42% (985)</div>
<div class="t " style="right:26.4px;top:433.15px;font-size:16.10px;color:#222;font-weight:normal;">$1,058.32</div>
<div class="t " style="right:26.4px;top:448.98px;font-size:9.40px;color:#777;font-weight:normal;">% of Total: 2.02%</div>
<div class="t " style="right:26.4px;top:459.48px;font-size:9.40px;color:#777;font-weight:normal;">($52,502.50)</div>
<div class="cb" style="left:186px;top:515.7px"></div>
<div class="t " style="left:219.8px;top:518.30px;font-size:10.00px;color:#222;font-weight:normal;letter-spacing:0.6px">1.</div>
<div class="t " style="left:240.2px;top:518.30px;font-size:10.00px;color:#222;font-weight:normal;letter-spacing:0.5px">email</div>
<div class="t " style="left:421.0px;top:511.10px;font-size:10.00px;color:#222;font-weight:normal;letter-spacing:0.400px;">17e69b6ff5-</div>
<div class="t " style="left:421.0px;top:525.30px;font-size:10.00px;color:#222;font-weight:normal;letter-spacing:0.422px;">Email_Day_11_03_2016</div>
<div class="t " style="right:639.4px;top:518.24px;font-size:10.00px;color:#222;font-weight:bold;letter-spacing:0.17px">1,585</div>
<div class="t " style="right:599.3px;top:517.27px;font-size:9.00px;color:#7d7d7d;font-weight:normal;letter-spacing:0.02px">(67.94%)</div>
<div class="t " style="right:530.2px;top:518.30px;font-size:10.00px;color:#222;font-weight:normal;letter-spacing:0.33px">32.93%</div>
<div class="t " style="right:499.3px;top:518.30px;font-size:10.00px;color:#222;font-weight:normal;letter-spacing:0.33px">522</div>
<div class="t " style="right:458.8px;top:517.27px;font-size:9.00px;color:#7d7d7d;font-weight:normal;letter-spacing:0.02px">(77.10%)</div>
<div class="t " style="right:390.2px;top:518.30px;font-size:10.00px;color:#222;font-weight:normal;letter-spacing:0.33px">45.62%</div>
<div class="t " style="right:336.8px;top:518.30px;font-size:10.00px;color:#222;font-weight:normal;letter-spacing:0.33px">5.20</div>
<div class="t " style="right:258.7px;top:518.30px;font-size:10.00px;color:#222;font-weight:normal;letter-spacing:0.33px">00:08:23</div>
<div class="t " style="right:192.5px;top:518.30px;font-size:10.00px;color:#222;font-weight:normal;letter-spacing:0.33px">0.06%</div>
<div class="t " style="right:156.3px;top:518.30px;font-size:10.00px;color:#222;font-weight:normal;letter-spacing:0.33px">8</div>
<div class="t " style="right:116.4px;top:517.27px;font-size:9.00px;color:#7d7d7d;font-weight:normal;letter-spacing:0.02px">(7.14%)</div>
<div class="t " style="left:1165.4px;top:518.30px;font-size:10.00px;color:#222;font-weight:normal;letter-spacing:0.33px">$564.48</div>
<div class="t " style="right:24.2px;top:517.27px;font-size:9.00px;color:#7d7d7d;font-weight:normal;letter-spacing:0.02px">(6.75%)</div>
<div class="cb" style="left:186px;top:555.5px"></div>
<div class="t " style="left:219.8px;top:558.10px;font-size:10.00px;color:#222;font-weight:normal;letter-spacing:0.6px">2.</div>
<div class="t " style="left:240.2px;top:558.10px;font-size:10.00px;color:#222;font-weight:normal;letter-spacing:0.5px">email</div>
<div class="t " style="left:421.0px;top:550.90px;font-size:10.00px;color:#222;font-weight:normal;letter-spacing:0.412px;">3b3fa17f9a-</div>
<div class="t " style="left:421.0px;top:565.10px;font-size:10.00px;color:#222;font-weight:normal;letter-spacing:0.435px;">EmailDay_18_03_2016</div>
<div class="t " style="right:639.4px;top:558.04px;font-size:10.00px;color:#222;font-weight:bold;letter-spacing:0.17px">315</div>
<div class="t " style="right:599.3px;top:557.07px;font-size:9.00px;color:#7d7d7d;font-weight:normal;letter-spacing:0.02px">(13.50%)</div>
<div class="t " style="right:530.2px;top:558.10px;font-size:10.00px;color:#222;font-weight:normal;letter-spacing:0.33px">39.37%</div>
<div class="t " style="right:499.3px;top:558.10px;font-size:10.00px;color:#222;font-weight:normal;letter-spacing:0.33px">124</div>
<div class="t " style="right:458.8px;top:557.07px;font-size:9.00px;color:#7d7d7d;font-weight:normal;letter-spacing:0.02px">(18.32%)</div>
<div class="t " style="right:390.2px;top:558.10px;font-size:10.00px;color:#222;font-weight:normal;letter-spacing:0.33px">54.60%</div>
<div class="t " style="right:336.8px;top:558.10px;font-size:10.00px;color:#222;font-weight:normal;letter-spacing:0.33px">3.01</div>
<div class="t " style="right:258.7px;top:558.10px;font-size:10.00px;color:#222;font-weight:normal;letter-spacing:0.33px">00:04:34</div>
<div class="t " style="right:192.5px;top:558.10px;font-size:10.00px;color:#222;font-weight:normal;letter-spacing:0.33px">3.32%</div>
<div class="t " style="right:156.3px;top:558.10px;font-size:10.00px;color:#222;font-weight:normal;letter-spacing:0.33px">12</div>
<div class="t " style="right:116.4px;top:557.07px;font-size:9.00px;color:#7d7d7d;font-weight:normal;letter-spacing:0.02px">(7.14%)</div>
<div class="t " style="left:1165.4px;top:558.10px;font-size:10.00px;color:#222;font-weight:normal;letter-spacing:0.33px">$244.97</div>
<div class="t " style="right:24.2px;top:557.07px;font-size:9.00px;color:#7d7d7d;font-weight:normal;letter-spacing:0.02px">(1.32%)</div>
<div class="cb" style="left:186px;top:589.6px"></div>
<div class="t " style="left:219.8px;top:592.20px;font-size:10.00px;color:#222;font-weight:normal;letter-spacing:0.6px">3.</div>
<div class="t " style="left:240.2px;top:592.20px;font-size:10.00px;color:#222;font-weight:normal;letter-spacing:0.5px">email</div>
<div class="t " style="left:421.0px;top:592.20px;font-size:10.00px;color:#222;font-weight:normal;letter-spacing:0.201px;">submit_order_smtp</div>
<div class="t " style="right:639.4px;top:592.14px;font-size:10.00px;color:#222;font-weight:bold;letter-spacing:0.17px">124</div>
<div class="t " style="right:599.3px;top:591.17px;font-size:9.00px;color:#7d7d7d;font-weight:normal;letter-spacing:0.02px">(5.32%)</div>
<div class="t " style="right:530.2px;top:592.20px;font-size:10.00px;color:#222;font-weight:normal;letter-spacing:0.33px">0.00%</div>
<div class="t " style="right:499.3px;top:592.20px;font-size:10.00px;color:#222;font-weight:normal;letter-spacing:0.33px">0</div>
<div class="t " style="right:458.8px;top:591.17px;font-size:9.00px;color:#7d7d7d;font-weight:normal;letter-spacing:0.02px">(0.00%)</div>
<div class="t " style="right:390.2px;top:592.20px;font-size:10.00px;color:#222;font-weight:normal;letter-spacing:0.33px">20.16%</div>
<div class="t " style="right:336.8px;top:592.20px;font-size:10.00px;color:#222;font-weight:normal;letter-spacing:0.33px">8.33</div>
<div class="t " style="right:258.7px;top:592.20px;font-size:10.00px;color:#222;font-weight:normal;letter-spacing:0.33px">00:10:31</div>
<div class="t " style="right:192.5px;top:592.20px;font-size:10.00px;color:#222;font-weight:normal;letter-spacing:0.33px">5.65%</div>
<div class="t " style="right:156.3px;top:592.20px;font-size:10.00px;color:#222;font-weight:normal;letter-spacing:0.33px">15</div>
<div class="t " style="right:116.4px;top:591.17px;font-size:9.00px;color:#7d7d7d;font-weight:normal;letter-spacing:0.02px">(50.00%)</div>
<div class="t " style="left:1165.4px;top:592.20px;font-size:10.00px;color:#222;font-weight:normal;letter-spacing:0.33px">$772.49</div>
<div class="t " style="right:24.2px;top:591.17px;font-size:9.00px;color:#7d7d7d;font-weight:normal;letter-spacing:0.02px">(72.99%)</div>
<div class="cb" style="left:186px;top:617.6px"></div>
<div class="t " style="left:219.8px;top:620.20px;font-size:10.00px;color:#222;font-weight:normal;letter-spacing:0.6px">4.</div>
<div class="t " style="left:240.2px;top:620.20px;font-size:10.00px;color:#222;font-weight:normal;letter-spacing:0.5px">email</div>
<div class="t " style="left:421.0px;top:620.20px;font-size:10.00px;color:#222;font-weight:normal;letter-spacing:0.265px;">ru-email-import_your_list-3</div>
<div class="t " style="right:639.4px;top:620.14px;font-size:10.00px;color:#222;font-weight:bold;letter-spacing:0.17px">77</div>
<div class="t " style="right:599.3px;top:619.17px;font-size:9.00px;color:#7d7d7d;font-weight:normal;letter-spacing:0.02px">(3.30%)</div>
<div class="t " style="right:530.2px;top:620.20px;font-size:10.00px;color:#222;font-weight:normal;letter-spacing:0.33px">3.90%</div>
<div class="t " style="right:499.3px;top:620.20px;font-size:10.00px;color:#222;font-weight:normal;letter-spacing:0.33px">3</div>
<div class="t " style="right:458.8px;top:619.17px;font-size:9.00px;color:#7d7d7d;font-weight:normal;letter-spacing:0.02px">(0.44%)</div>
<div class="t " style="right:390.2px;top:620.20px;font-size:10.00px;color:#222;font-weight:normal;letter-spacing:0.33px">44.16%</div>
<div class="t " style="right:336.8px;top:620.20px;font-size:10.00px;color:#222;font-weight:normal;letter-spacing:0.33px">7.09</div>
<div class="t " style="right:258.7px;top:620.20px;font-size:10.00px;color:#222;font-weight:normal;letter-spacing:0.33px">00:12:50</div>
<div class="t " style="right:192.5px;top:620.20px;font-size:10.00px;color:#222;font-weight:normal;letter-spacing:0.33px">4.32%</div>
<div class="t " style="right:156.3px;top:620.20px;font-size:10.00px;color:#222;font-weight:normal;letter-spacing:0.33px">23</div>
<div class="t " style="right:116.4px;top:619.17px;font-size:9.00px;color:#7d7d7d;font-weight:normal;letter-spacing:0.02px">(0.00%)</div>
<div class="t " style="left:1165.4px;top:620.20px;font-size:10.00px;color:#222;font-weight:normal;letter-spacing:0.33px">$187.00</div>
<div class="t " style="right:24.2px;top:619.17px;font-size:9.00px;color:#7d7d7d;font-weight:normal;letter-spacing:0.02px">(0.00%)</div>
<!--MAIN-->
</body></html>
